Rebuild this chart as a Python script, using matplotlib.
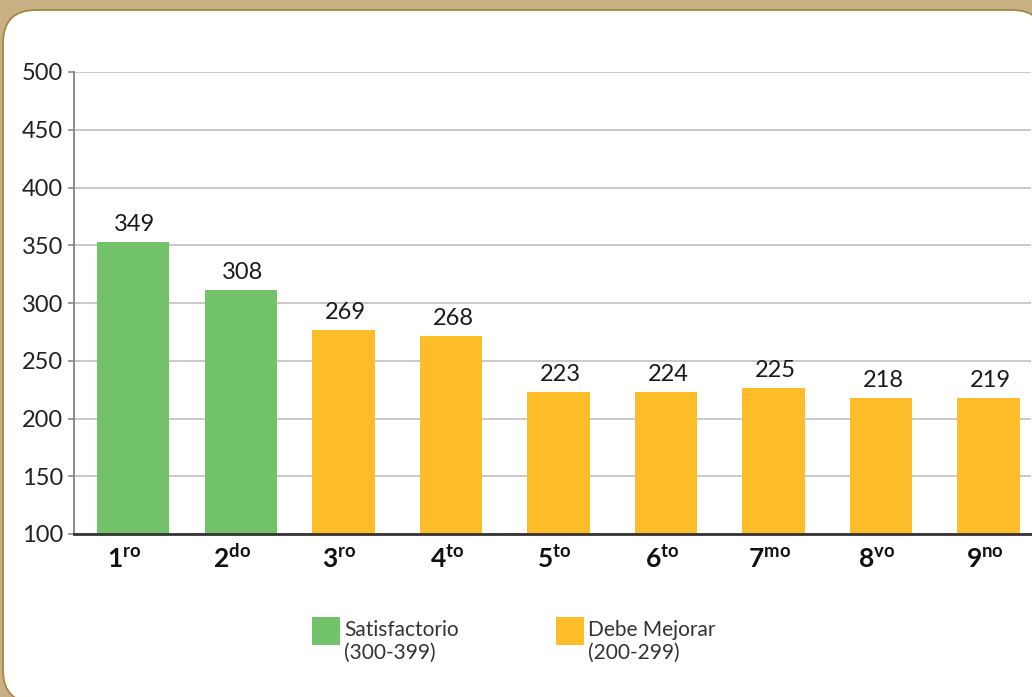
import matplotlib
matplotlib.use('Agg')
import matplotlib.pyplot as plt
import numpy as np
from matplotlib.patches import FancyBboxPatch, Rectangle

# ---- data ----
grade_nums = ['1', '2', '3', '4', '5', '6', '7', '8', '9']
grade_sups = ['ro', 'do', 'ro', 'to', 'to', 'to', 'mo', 'vo', 'no']
bar_values = [353, 311.5, 277, 271, 223, 223, 226.5, 218, 218]
value_labels = ['349', '308', '269', '268', '223', '224', '225', '218', '219']
levels = ['Satisfactorio', 'Satisfactorio', 'Debe Mejorar', 'Debe Mejorar',
          'Debe Mejorar', 'Debe Mejorar', 'Debe Mejorar', 'Debe Mejorar',
          'Debe Mejorar']
legend_labels = ['Satisfactorio', 'Debe Mejorar']
legend_ranges = ['(300-399)', '(200-299)']
y_ticks = [100, 150, 200, 250, 300, 350, 400, 450, 500]

# ---- style ----
FONT = 'Lato'
plt.rcParams['font.family'] = [FONT, 'DejaVu Sans']
plt.rcParams['mathtext.fontset'] = 'custom'
plt.rcParams['mathtext.rm'] = FONT
plt.rcParams['mathtext.bf'] = FONT + ':bold'
colors = {'Satisfactorio': '#72c26a', 'Debe Mejorar': '#fdbd29'}
widths = {'Satisfactorio': 0.67, 'Debe Mejorar': 0.586}
TAN = '#c8b084'
BORDER = '#a6873f'

W, H, DPI = 1032, 697, 100
fig = plt.figure(figsize=(W / DPI, H / DPI), dpi=DPI, facecolor=TAN)

# white rounded panel (pixel units converted to inches)
panel = FancyBboxPatch((3 / DPI, (H - 703) / DPI), (1045 - 3) / DPI, (703 - 10) / DPI,
                       boxstyle='round,pad=0,rounding_size=0.33',
                       transform=fig.dpi_scale_trans, facecolor='white',
                       edgecolor=BORDER, linewidth=1.3, zorder=-5)
fig.patches.append(panel)

ax_left, ax_right, ax_top, ax_bot = 74, 1031, 72, 534
ax = fig.add_axes([ax_left / W, 1 - ax_bot / H, (ax_right - ax_left) / W, (ax_bot - ax_top) / H])
ax.set_facecolor('none')

x = np.arange(len(bar_values))
bar_w = [widths[l] for l in levels]
bar_c = [colors[l] for l in levels]
heights = np.array(bar_values) - 100
ax.bar(x - 0.293, heights, bottom=100, width=bar_w, align='edge', color=bar_c, zorder=3)

slot = 107.5  # pixels per category
ax.set_xlim(-(128.5 - ax_left) / slot, 8 + (ax_right - 988.5) / slot)
ax.set_ylim(100, 500)
ax.set_yticks(y_ticks)
ax.set_yticklabels([str(v) for v in y_ticks], fontsize=17, color='#222222')
ax.set_xticks([])
ax.grid(axis='y', color='#c0c0c0', linewidth=1.2, zorder=0)
ax.set_axisbelow(True)
for s in ['top', 'right']:
    ax.spines[s].set_visible(False)
ax.spines['left'].set_color('#8a8a8a')
ax.spines['left'].set_linewidth(1.4)
ax.spines['bottom'].set_color('#333333')
ax.spines['bottom'].set_linewidth(2.0)
ax.spines['bottom'].set_zorder(4)
ax.tick_params(axis='y', length=4, width=1.2, color='#8a8a8a', pad=4)

# value labels
for xi, w, v, lab in zip(x, bar_w, bar_values, value_labels):
    cx = xi - 0.293 + w / 2
    ax.annotate(lab, xy=(cx, v), xytext=(2, 7), textcoords='offset pixels',
                ha='center', va='bottom', fontsize=17, color='#1a1a1a', zorder=5)

# category labels with superscripts
for xi, n, s in zip(x, grade_nums, grade_sups):
    ax.annotate(r'$\mathbf{%s}^{\mathbf{%s}}$' % (n, s), xy=(xi, 0),
                xycoords=('data', 'axes fraction'), xytext=(-4, -34),
                textcoords='offset pixels', ha='center', va='baseline',
                fontsize=19, color='#111111', annotation_clip=False)

# legend
leg_sq_x = [312, 556]
for lx, lab, rng in zip(leg_sq_x, legend_labels, legend_ranges):
    fig.patches.append(Rectangle((lx / W, 1 - 645 / H), 28 / W, 28 / H,
                                 transform=fig.transFigure, facecolor=colors[lab],
                                 edgecolor='none'))
    fig.text((lx + 32) / W, 1 - 636 / H, lab, fontsize=15, color='#333333', va='baseline')
    fig.text((lx + 32) / W, 1 - 659 / H, rng, fontsize=15, color='#333333', va='baseline')

fig.savefig('out.png', dpi=DPI, facecolor=TAN)
